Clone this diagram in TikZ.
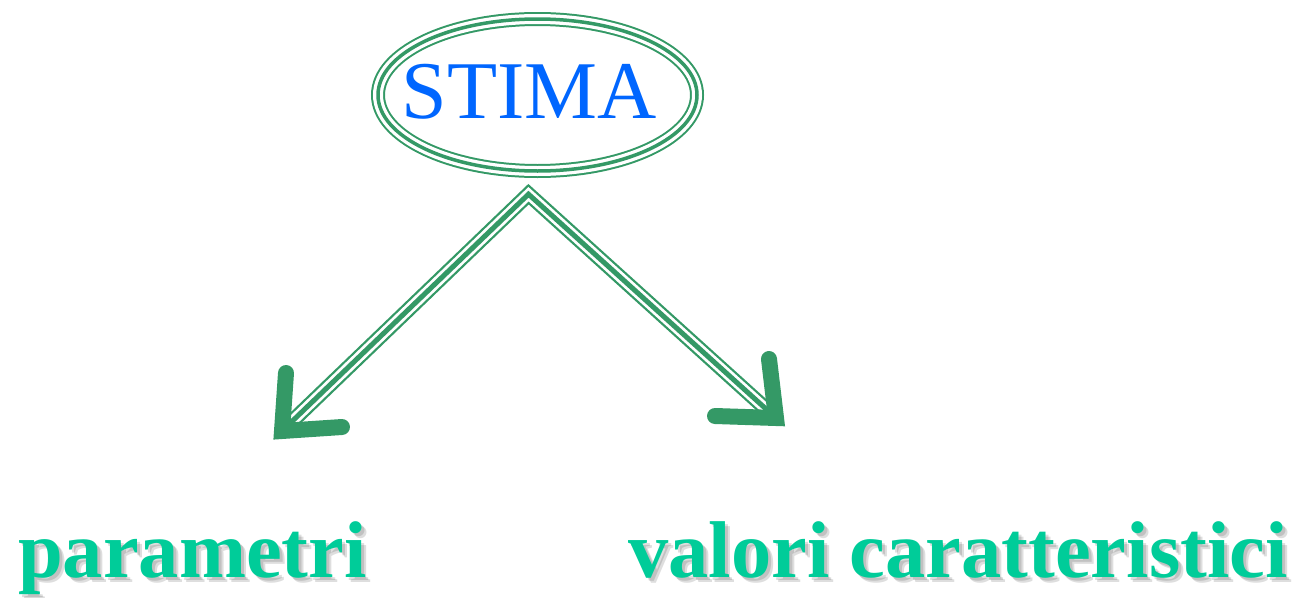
\documentclass[tikz,border=0pt]{standalone}
\usepackage{fontspec}
\setmainfont{Liberation Serif}
\usetikzlibrary{shapes.geometric,calc}
\definecolor{grn}{RGB}{52,153,102}
\definecolor{stblue}{RGB}{0,102,255}
\definecolor{lbl}{RGB}{0,204,153}
\tikzset{
  stimatxt/.style={text=stblue, font=\fontsize{82}{90}\selectfont, inner sep=0pt},
  lbltxt/.style={text=lbl, font=\bfseries\fontsize{80.5}{90}\selectfont, inner sep=0pt},
  shadowtxt/.style={text=black, text opacity=0.13, font=\bfseries\fontsize{80.5}{90}\selectfont, inner sep=0pt},
  trioA/.style={draw=grn, line width=14pt},
  trioB/.style={draw=white, line width=10pt},
  trioC/.style={draw=grn, line width=3.5pt},
  shaftA/.style={draw=grn, line width=15pt, line join=miter},
  shaftB/.style={draw=white, line width=10.5pt, line join=miter},
  shaftC/.style={draw=grn, line width=5pt, line join=miter},
  headstyle/.style={draw=grn, line width=16pt, line cap=round, line join=miter}
}
\begin{document}
\begin{tikzpicture}[x=1pt,y=-1pt]
\useasboundingbox (0,0) rectangle (1301,597);
% ellipse node
\node[ellipse, minimum width=332pt, minimum height=166pt, inner sep=0pt] (stima) at (537.5,95) {};
\path[trioA] (537.5,95) ellipse [x radius=159.5, y radius=76];
\path[trioB] (537.5,95) ellipse [x radius=159.5, y radius=76];
\path[trioC] (537.5,95) ellipse [x radius=159.5, y radius=76];
\node[stimatxt, anchor=base] (stimalbl) at (529,118) {STIMA};
% connector coordinates
\coordinate (apex) at ($(stima.south)+(-9,16)$);
\coordinate (ltip) at (282,431);
\coordinate (rtip) at (776,418);
\coordinate (lend) at ($(ltip)!12pt!(apex)$);
\coordinate (rend) at ($(rtip)!12pt!(apex)$);
% shafts
\path[shaftA] (lend) -- (apex) -- (rend);
\path[shaftB] (lend) -- (apex) -- (rend);
\path[shaftC] (lend) -- (apex) -- (rend);
% arrowheads
\path[headstyle] (286,373) -- (ltip) -- (342,427);
\path[headstyle] (769,359) -- (rtip) -- (715,416);
% label shadows (soft)
\foreach \dx/\dy in {3/3,5/5} {
  \node[shadowtxt, anchor=base west] at (18+\dx,577+\dy) {parametri};
  \node[shadowtxt, anchor=base west] at (628+\dx,577+\dy) {valori caratteristici};
}
% labels
\node[lbltxt, anchor=base west] (param) at (18,577) {parametri};
\node[lbltxt, anchor=base west] (valori) at (628,577) {valori caratteristici};
\end{tikzpicture}
\end{document}
